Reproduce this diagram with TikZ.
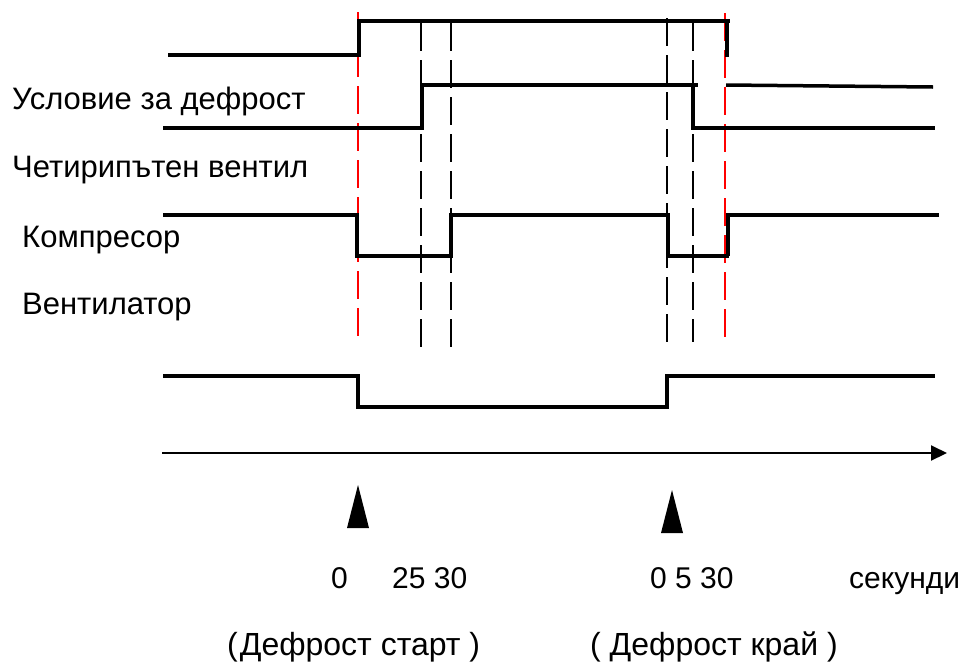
\documentclass[tikz,border=0pt]{standalone}
\usepackage{fontspec}
\setmainfont{Liberation Sans}
\usetikzlibrary{arrows.meta}

\begin{document}
\begin{tikzpicture}[x=1pt, y=-1pt,
    signal/.style={line width=3.5pt},
    guide/.style={line width=1.6pt, dash pattern=on 28pt off 9pt},
    lbl/.style={anchor=base west, inner sep=0pt, font=\fontsize{31}{36}\selectfont},
    small lbl/.style={lbl, font=\fontsize{30}{36}\selectfont},
    big lbl/.style={lbl, font=\fontsize{32}{38}\selectfont}]
    \useasboundingbox (0,0) rectangle (976,662);

    % Guide lines at the switching moments
    \draw[guide, red] (358,12) -- (358,342);
    \draw[guide, red] (725,13) -- (725,342);
    \draw[guide] (421,23) -- (421,350);
    \draw[guide] (451,23) -- (451,353);
    \draw[guide] (667,18) -- (667,342);
    \draw[guide] (693,23) -- (693,342);

    % Signals
    \draw[signal] (168,55) -- (359,55) -- (359,21) -- (730,21);
    \draw[signal] (727,21) -- (727,57);
    \draw[signal] (726,85) -- (933,87);

    \draw[signal] (163,128) -- (422,128) -- (422,85) -- (698,85);
    \draw[signal] (693,85) -- (693,128) -- (935,128);

    \draw[signal] (163,215) -- (357,215) -- (357,256) -- (451,256) -- (451,215) -- (668,215) -- (668,256) -- (729,256);
    \draw[signal] (728,256) -- (728,215) -- (939,215);

    \draw[signal] (163,376) -- (358,376) -- (358,407) -- (667,407) -- (667,376) -- (935,376);

    % Time axis
    \draw[line width=2pt, -{Triangle[length=16pt, width=15pt]}] (162,453) -- (947,453);

    % Markers
    \fill (347,528) -- (369,528) -- (358,485) -- cycle;
    \fill (661,533) -- (683,533) -- (672,490) -- cycle;

    % Labels
    \node[lbl] (cond) at (12,109) {Условие за дефрост};
    \node[lbl] (valve) at (12,177) {Четирипътен вентил};
    \node[lbl] (comp) at (22,247) {Компресор};
    \node[lbl] (fan) at (22,314) {Вентилатор};

    \node[small lbl] (zero1) at (331,588) {0};
    \node[small lbl] (times1) at (392,588) {25 30};
    \node[small lbl] (times2) at (650,588) {0 5 30};
    \node[small lbl] (sec) at (849,588) {секунди};
    \node[big lbl] (start) at (227,655) {(\kern2pt Дефрост старт )};
    \node[big lbl] (end) at (590,655) {( Дефрост край )};
\end{tikzpicture}
\end{document}
